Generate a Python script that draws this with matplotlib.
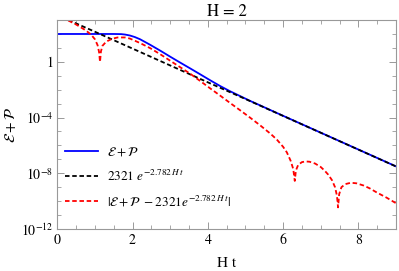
import numpy as np
import matplotlib
matplotlib.use("Agg")
import matplotlib.pyplot as plt
from matplotlib.ticker import FixedLocator, NullFormatter

plt.rcParams['font.family'] = 'STIXGeneral'
plt.rcParams['mathtext.fontset'] = 'stix'

# values, y as log10
t_blue = [0.0, 0.5, 1.0, 1.5, 1.7, 1.8, 1.93, 2.06, 2.2, 2.47, 2.75, 3.0, 3.25, 3.53,
          3.8, 4.06, 4.33, 4.59, 4.86, 5.12, 5.4, 5.66, 6.0, 7.0, 8.0, 9.0]
lg_blue = [2.0, 2.0, 2.0, 2.0, 1.99, 1.96, 1.89, 1.78, 1.62, 1.22, 0.78, 0.37, -0.03,
           -0.47, -0.9, -1.32, -1.74, -2.11, -2.46, -2.8, -3.14, -3.46, -3.875,
           -5.085, -6.295, -7.505]

t_black = [0.29, 1.0, 2.0, 3.0, 4.0, 5.0, 6.0, 7.0, 8.0, 9.0]
lg_black = [3.01, 2.16, 0.95, -0.26, -1.47, -2.67, -3.88, -5.09, -6.30, -7.51]

t_red = [0.29, 0.5, 0.75, 0.9, 1.0, 1.07, 1.11, 1.135, 1.16, 1.2, 1.3, 1.45, 1.6,
         1.8, 1.93, 2.2, 2.47, 2.75, 3.0, 3.25, 3.53, 3.8, 4.06, 4.33, 4.59, 4.86,
         5.12, 5.4, 5.66, 5.83, 6.0, 6.1, 6.2, 6.27, 6.31, 6.34, 6.4, 6.5, 6.6, 6.7,
         6.85, 7.0, 7.1, 7.2, 7.3, 7.38, 7.43, 7.46, 7.49, 7.55, 7.65, 7.8, 7.95,
         8.14, 8.3, 8.49, 8.75, 9.0]
lg_red = [2.97, 2.68, 2.27, 1.95, 1.62, 1.2, 0.7, 0.0, 0.75, 1.15, 1.45, 1.65, 1.75,
          1.75, 1.67, 1.35, 0.98, 0.52, 0.08, -0.36, -0.85, -1.38, -1.9, -2.43,
          -2.95, -3.48, -4.0, -4.58, -5.15, -5.57, -6.1, -6.5, -7.1, -7.7, -8.55,
          -7.8, -7.4, -7.2, -7.15, -7.17, -7.3, -7.55, -7.8, -8.1, -8.5, -9.0, -9.6,
          -10.45, -9.5, -9.0, -8.78, -8.68, -8.72, -8.88, -9.08, -9.38, -9.75, -10.15]

y_major = [0, -4, -8, -12]
y_labels = ['1', '$10^{-4}$', '$10^{-8}$', '$10^{-12}$']

fig = plt.figure(figsize=(3.99, 2.71), dpi=100)
ax = fig.add_axes([0.1436, 0.155, 0.8489, 0.771])

ax.semilogy(t_blue, 10.0**np.array(lg_blue), color='blue', lw=1.3,
            label=r'$\mathcal{E}+\mathcal{P}$')
ax.semilogy(t_black, 10.0**np.array(lg_black), color='black', lw=1.3,
            dashes=(2.5, 1.5), label=r'$2321\ e^{-2.782\,H\,t}$')
ax.semilogy(t_red, 10.0**np.array(lg_red), color='red', lw=1.3,
            dashes=(2.5, 1.5), label=r'$|\mathcal{E}+\mathcal{P}\ -2321e^{-2.782\,H\,t}|$')

ax.set_xlim(0, 9)
ax.set_ylim(1e-12, 1e3)

ax.set_xticks([0, 2, 4, 6, 8])
ax.xaxis.set_minor_locator(FixedLocator(np.arange(0, 9.01, 0.5)))
ax.yaxis.set_major_locator(FixedLocator([10.0**k for k in y_major]))
ax.set_yticklabels(y_labels)
ax.yaxis.set_minor_locator(FixedLocator([10.0**k for k in range(-12, 4)]))
ax.yaxis.set_minor_formatter(NullFormatter())

ax.tick_params(which='both', direction='in', top=True, right=True,
               color='#999999', labelsize=10, pad=3)
ax.tick_params(which='major', length=5, width=0.7)
ax.tick_params(which='minor', length=3, width=0.6)
for s in ax.spines.values():
    s.set_color('#999999')
    s.set_linewidth(0.8)

ax.set_title('H = 2', fontsize=12, pad=3)
ax.set_xlabel('H t', fontsize=11)
ax.xaxis.set_label_coords(0.5, -0.13)
ax.set_ylabel(r'$\mathcal{E}+\mathcal{P}$', fontsize=11, labelpad=2)

ax.legend(loc='lower left', bbox_to_anchor=(0.0, 0.06), frameon=False,
          fontsize=9.5, handlelength=2.45, handletextpad=0.75, labelspacing=0.75,
          borderaxespad=0.2)

fig.savefig('out.png', dpi=100)
